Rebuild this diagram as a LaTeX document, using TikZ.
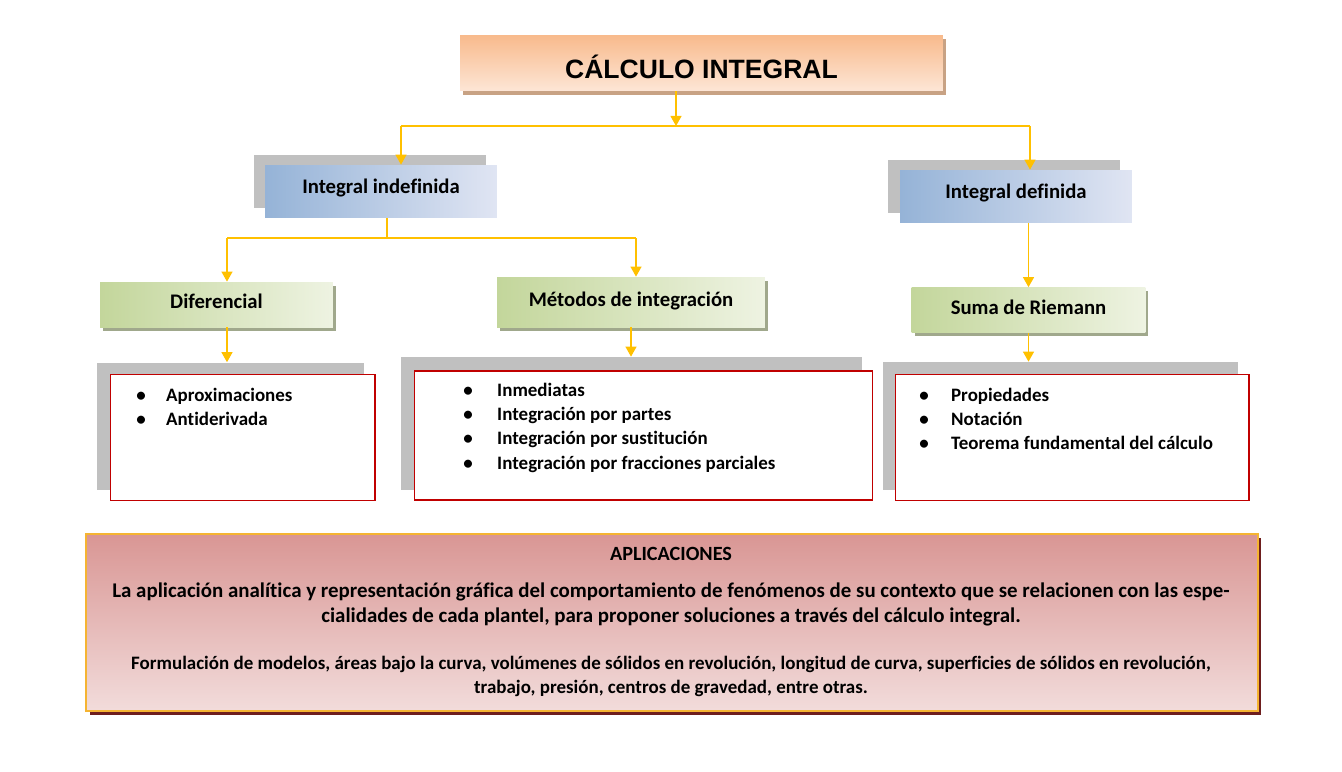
\documentclass[tikz,border=0pt]{standalone}
\usepackage{fontspec}
\setmainfont[Ligatures={NoCommon,NoDiscretionary}]{Carlito}
\newfontfamily\arialfont{Liberation Sans}
\usetikzlibrary{arrows.meta,positioning,shadows}
\definecolor{tipgold}{RGB}{255,192,0}
\definecolor{peach}{RGB}{248,186,140}
\definecolor{peachlt}{RGB}{253,230,214}
\definecolor{peachsh}{RGB}{200,162,132}
\definecolor{bluedk}{RGB}{149,179,215}
\definecolor{bluelt}{RGB}{224,229,243}
\definecolor{greendk}{RGB}{195,214,155}
\definecolor{greenlt}{RGB}{238,243,226}
\definecolor{greensh}{RGB}{160,168,140}
\definecolor{shadegray}{RGB}{192,192,192}
\definecolor{listred}{RGB}{192,0,0}
\definecolor{rosedk}{RGB}{217,150,148}
\definecolor{roselt}{RGB}{242,220,219}
\definecolor{roseframe}{RGB}{245,180,50}
\definecolor{rosesh}{RGB}{110,30,30}

\begin{document}
\begin{tikzpicture}[
  x=0.02cm, y=-0.02cm,
  title/.style = {rectangle, top color=peach, bottom color=peachlt,
                  minimum width=9.66cm, minimum height=1.12cm, inner sep=0pt,
                  text height=18pt, text depth=0pt,
                  font=\arialfont\bfseries\fontsize{15.1}{18}\selectfont,
                  drop shadow={shadow xshift=1.7pt, shadow yshift=-2pt,
                               fill=peachsh, opacity=1}},
  topic/.style = {rectangle, left color=bluedk, right color=bluelt,
                  minimum width=4.64cm, minimum height=1.06cm, inner sep=0pt,
                  text height=7pt, text depth=5pt,
                  font=\bfseries\fontsize{11.8}{14}\selectfont},
  sub/.style   = {rectangle, left color=greendk, right color=greenlt,
                  minimum height=0.9cm, inner sep=0pt,
                  text height=8pt, text depth=3pt,
                  font=\bfseries\fontsize{11.8}{14}\selectfont,
                  drop shadow={shadow xshift=1.7pt, shadow yshift=-2.2pt,
                               fill=greensh, opacity=1}},
  back/.style  = {rectangle, fill=shadegray, inner sep=0pt},
  frame/.style = {rectangle, draw=listred, fill=white, line width=0.6pt, inner sep=0pt},
  items/.style = {anchor=base west, inner sep=0pt,
                  font=\bfseries\fontsize{10.8}{13.8}\selectfont},
  appbox/.style= {rectangle, top color=rosedk, bottom color=roselt,
                  draw=roseframe, line width=1.1pt, inner sep=0pt,
                  drop shadow={shadow xshift=2pt, shadow yshift=-2.4pt,
                               fill=rosesh, opacity=1}},
  arr/.style   = {-{Triangle[length=5.7pt,width=6.2pt]}, line width=0.85pt, draw=tipgold, fill=tipgold},
  link/.style  = {line width=0.85pt, draw=tipgold},
]
\useasboundingbox (0,0) rectangle (1342,771);

% top of the map
\node[title] (calc) at (701.5,63) {CÁLCULO INTEGRAL};

\node[back, minimum width=4.64cm, minimum height=1.06cm] (indefbk) at (370,181.5) {};
\node[back, minimum width=4.64cm, minimum height=1.06cm] (defbk)   at (1004,186.5) {};
\node[topic] (indef) at (381,191.5)  {Integral indefinida};
\node[topic] (def)   at (1016,196.5) {Integral definida};

\node[sub, minimum width=4.66cm] (dif) at (216.5,304.5) {Diferencial};
\node[sub, minimum width=5.36cm, minimum height=1.0cm] (met) at (631,302) {Métodos de integración};
\node[sub, minimum width=4.68cm] (riem) at (1028.5,310) {Suma de Riemann};

% lists
\node[back, minimum width=5.34cm, minimum height=2.55cm] (difbk)  at (230.5,426.3) {};
\node[back, minimum width=9.22cm, minimum height=2.66cm] (metbk)  at (631.5,423.5) {};
\node[back, minimum width=7.11cm, minimum height=2.56cm] (riembk) at (1060.3,426) {};
\node[frame, minimum width=5.3cm,  minimum height=2.52cm] (difbox)  at (242.5,437.3) {};
\node[frame, minimum width=9.18cm, minimum height=2.58cm] (metbox)  at (643.5,435.5) {};
\node[frame, minimum width=7.08cm, minimum height=2.51cm] (riembox) at (1072,437.3) {};

\node[items] (diflist) at (136,401) {\begin{tabular}[t]{@{}p{17pt}@{}l@{}}
  \textbullet & Aproximaciones\\
  \textbullet & Antiderivada
\end{tabular}};
\node[items] (metlist) at (463,396.5) {\begin{tabular}[t]{@{}p{19.3pt}@{}l@{}}
  \textbullet & Inmediatas\\
  \textbullet & Integración por partes\\
  \textbullet & Integración por sustitución\\
  \textbullet & Integración por fracciones parciales
\end{tabular}};
\node[items] (riemlist) at (919,401.5) {\begin{tabular}[t]{@{}p{18.1pt}@{}l@{}}
  \textbullet & Propiedades\\
  \textbullet & Notación\\
  \textbullet & Teorema fundamental del cálculo
\end{tabular}};

% applications
\node[appbox, minimum width=23.44cm, minimum height=3.54cm] (app) at (672,622.5) {};
\node[anchor=base, font=\bfseries\fontsize{11.5}{14}\selectfont] (apptitle) at (671,560) {APLICACIONES};
\node[anchor=base, inner sep=0pt, font=\bfseries\fontsize{11.9}{14.7}\selectfont] (appdesc) at (671,597)
  {\begin{tabular}[t]{@{}c@{}}
  La aplicación analítica y representación gráfica del comportamiento de fenómenos de su contexto que se relacionen con las espe-\\
  cialidades de cada plantel, para proponer soluciones a través del cálculo integral.
  \end{tabular}};
\node[anchor=base, inner sep=0pt, font=\bfseries\fontsize{10.8}{14.2}\selectfont] (appuse) at (671,669)
  {\begin{tabular}[t]{@{}c@{}}
  Formulación de modelos, áreas bajo la curva, volúmenes de sólidos en revolución, longitud de curva, superficies de sólidos en revolución,\\
  trabajo, presión, centros de gravedad, entre otras.
  \end{tabular}};

% connectors
\coordinate (top)  at (676,126);
\coordinate (topl) at (401,126);
\coordinate (topr) at (1030,126);
\coordinate (mid)  at (387,238);
\coordinate (midl) at (227,238);
\coordinate (midr) at (636,238);

\draw[arr]  (calc.south -| top) -- (top);
\draw[link] (topl) -- (topr);
\draw[arr]  (topl) -- (topl |- indef.north);
\draw[arr]  (topr) -- (topr |- def.north);
\draw[link] (indef.south -| mid) -- (mid);
\draw[link] (midl) -- (midr);
\draw[arr]  (midl) -- (midl |- dif.north);
\draw[arr]  (midr) -- (midr |- met.north);
\draw[arr]  (def.south -| riem.north) -- (riem.north);
\draw[arr]  (dif.south -| midl) -- (midl |- difbk.north);
\draw[arr]  (met.south) -- (met.south |- metbk.north);
\draw[arr]  (riem.south) -- (riem.south |- riembk.north);
\end{tikzpicture}
\end{document}
